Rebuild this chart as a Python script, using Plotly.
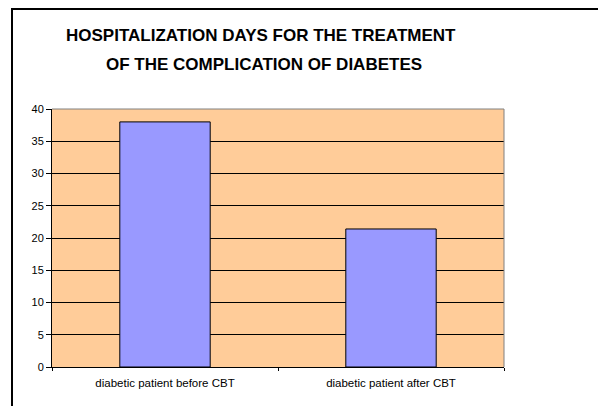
import plotly.graph_objects as go

categories = ["diabetic patient before CBT", "diabetic patient after CBT"]
days = [38, 21.4]
y_ticks = [0, 5, 10, 15, 20, 25, 30, 35, 40]
title_lines = ["HOSPITALIZATION DAYS FOR THE TREATMENT", "OF THE COMPLICATION OF DIABETES"]

FONT = "Arial, Liberation Sans, sans-serif"
W, H = 598, 406
L, R, T, B = 52, 94, 109, 39
pw, ph = W - L - R, H - T - B

def px(x):
    return (x - L) / pw

def py(y):
    return (H - B - y) / ph

fig = go.Figure()
fig.add_trace(go.Bar(
    x=categories, y=days, width=0.4,
    marker=dict(color="#9999FF", line=dict(color="black", width=1)),
))

fig.update_layout(
    width=W, height=H,
    margin=dict(l=L, r=R, t=T, b=B),
    paper_bgcolor="white", plot_bgcolor="#FFCC99",
    showlegend=False,
    font=dict(family=FONT, size=11, color="black"),
    shapes=[
        dict(type="rect", xref="paper", yref="paper", x0=px(12), x1=px(620), y0=py(420), y1=py(9),
             line=dict(color="black", width=2), fillcolor="rgba(0,0,0,0)", layer="below"),
        dict(type="line", xref="paper", yref="paper", x0=0, x1=1, y0=1, y1=1,
             line=dict(color="#808080", width=1), layer="above"),
        dict(type="line", xref="paper", yref="paper", x0=1, x1=1, y0=0, y1=1,
             line=dict(color="#808080", width=1), layer="above"),
    ],
    annotations=[
        dict(text="<b>%s</b>" % title_lines[0], xref="paper", yref="paper", x=px(261), y=py(36),
             xanchor="center", yanchor="middle", showarrow=False, font=dict(family=FONT, size=17, color="black")),
        dict(text="<b>%s</b>" % title_lines[1], xref="paper", yref="paper", x=px(264), y=py(65),
             xanchor="center", yanchor="middle", showarrow=False, font=dict(family=FONT, size=17, color="black")),
    ],
)
fig.update_yaxes(
    range=[0, 40], tickvals=y_ticks, showgrid=True, gridcolor="black", gridwidth=1,
    showline=True, linecolor="black", linewidth=1, ticks="outside", ticklen=5, tickcolor="black",
    zeroline=False, tickfont=dict(family=FONT, size=11),
)
fig.update_xaxes(
    showline=True, linecolor="black", linewidth=1, ticks="outside", ticklen=3, tickcolor="black",
    tickson="boundaries", showgrid=False, tickfont=dict(family=FONT, size=11.5),
    ticklabelstandoff=5,
)

fig.write_html("out.html", config={"displayModeBar": False},
               post_script="document.body.style.margin='0';document.body.style.overflow='hidden';")
